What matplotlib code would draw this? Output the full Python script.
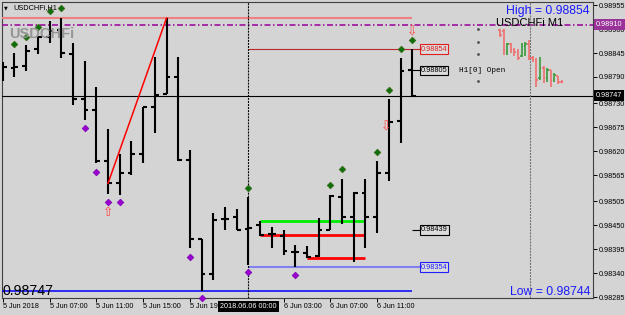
import matplotlib
matplotlib.use('Agg')
import matplotlib.pyplot as plt
import numpy as np

plt.rcParams['font.family'] = ['Liberation Sans', 'DejaVu Sans']
plt.rcParams['lines.scale_dashes'] = False

# ---------------- data (H1 bars, 5 Jun 03:00 .. 6 Jun 14:00) ----------------
h1_open = [0.98806, 0.98810, 0.98815, 0.98854, 0.98882, 0.98898, 0.98843, 0.98739, 0.98714, 0.98597,
           0.98546, 0.98569, 0.98613, 0.98721, 0.98751, 0.98790, 0.98599, 0.98418, 0.98338, 0.98464,
           0.98468, 0.98441, 0.98450, 0.98430, 0.98425, 0.98388, 0.98386, 0.98379, 0.98439, 0.98514,
           0.98468, 0.98524, 0.98468, 0.98569, 0.98689, 0.98805]
h1_high = [0.98824, 0.98845, 0.98863, 0.98884, 0.98918, 0.98925, 0.98868, 0.98826, 0.98767, 0.98670,
           0.98613, 0.98643, 0.98722, 0.98836, 0.98925, 0.98836, 0.98622, 0.98418, 0.98478, 0.98491,
           0.98487, 0.98514, 0.98459, 0.98446, 0.98439, 0.98404, 0.98402, 0.98466, 0.98519, 0.98556,
           0.98526, 0.98556, 0.98597, 0.98739, 0.98833, 0.98854]
h1_low = [0.98781, 0.98790, 0.98804, 0.98843, 0.98868, 0.98833, 0.98726, 0.98691, 0.98592, 0.98521,
          0.98519, 0.98565, 0.98592, 0.98661, 0.98751, 0.98597, 0.98397, 0.98300, 0.98324, 0.98439,
          0.98439, 0.98358, 0.98425, 0.98397, 0.98381, 0.98354, 0.98374, 0.98377, 0.98439, 0.98452,
          0.98365, 0.98397, 0.98432, 0.98551, 0.98638, 0.98744]
h1_close = [0.98813, 0.98813, 0.98849, 0.98882, 0.98895, 0.98845, 0.98739, 0.98714, 0.98597, 0.98546,
            0.98569, 0.98613, 0.98721, 0.98748, 0.98790, 0.98599, 0.98418, 0.98338, 0.98462, 0.98464,
            0.98439, 0.98443, 0.98427, 0.98430, 0.98390, 0.98388, 0.98377, 0.98439, 0.98517, 0.98468,
            0.98524, 0.98468, 0.98569, 0.98686, 0.98804, 0.98747]

xtick_bars = [0, 4, 8, 12, 16, 24, 28, 32]
xtick_labels = ['5 Jun 2018', '5 Jun 07:00', '5 Jun 11:00', '5 Jun 15:00', '5 Jun 19:00',
                '6 Jun 03:00', '6 Jun 07:00', '6 Jun 11:00']
ytick_values = [0.98955, 0.98900, 0.98845, 0.98790, 0.98730, 0.98675, 0.98620, 0.98565,
                0.98505, 0.98450, 0.98395, 0.98340, 0.98285]

# fractal style dots
up_dot_bars = [1, 2, 3, 4, 5, 21, 28, 29, 32, 33, 34, 35]
up_dot_price = [0.98865, 0.98882, 0.98905, 0.98941, 0.98948, 0.98535, 0.98542, 0.98579,
                0.98618, 0.98760, 0.98854, 0.98875]
dn_dot_bars = [7, 8, 9, 10, 16, 17, 21, 25]
dn_dot_price = [0.98673, 0.98572, 0.98503, 0.98503, 0.98377, 0.98283, 0.98342, 0.98335]

# arrows
up_arrow_bars = [9]
up_arrow_price = [0.98478]
dn_arrow_bars = [35, 32.75]
dn_arrow_price = [0.98893, 0.98674]

# trend line (bar, price)
trend_bars = [9, 14]
trend_price = [0.98546, 0.98925]

# levels
range_high = 0.98925
range_low = 0.98300
dash_level = 0.98910
bid = 0.98747
day_high = 0.98854
day_low = 0.98744
h1_open_level = 0.98805
lvl_black = 0.98439
lvl_blue = 0.98354
green_level = 0.98459
red_level1 = 0.98427
red_level2 = 0.98374

# M1 mini chart (current hour)
m1_open = [0.98898, 0.98895, 0.98847, 0.98865, 0.98852, 0.98847, 0.98838, 0.98861, 0.98865,
           0.98833, 0.98829, 0.98787, 0.98810, 0.98787, 0.98806, 0.98783, 0.98792, 0.98778]
m1_high = [0.98900, 0.98900, 0.98868, 0.98868, 0.98856, 0.98854, 0.98868, 0.98870, 0.98875,
           0.98838, 0.98833, 0.98836, 0.98815, 0.98810, 0.98806, 0.98799, 0.98792, 0.98783]
m1_low = [0.98882, 0.98840, 0.98840, 0.98845, 0.98838, 0.98829, 0.98836, 0.98838, 0.98829,
          0.98824, 0.98767, 0.98783, 0.98776, 0.98778, 0.98767, 0.98778, 0.98774, 0.98776]
m1_close = [0.98886, 0.98852, 0.98865, 0.98852, 0.98847, 0.98833, 0.98861, 0.98865, 0.98833,
            0.98829, 0.98783, 0.98810, 0.98787, 0.98806, 0.98783, 0.98794, 0.98778, 0.98778]

# ---------------- figure ----------------
W, H = 625, 315
BG = '#d4d4d4'
fig = plt.figure(figsize=(W / 100, H / 100), dpi=100)
fig.patch.set_facecolor(BG)
ax = fig.add_axes([2 / W, 17 / H, 591 / W, 296 / H])
ax.set_facecolor(BG)
ax.set_xlim(-0.06, 50.45)
ax.set_ylim(0.98283, 0.98962)
xl, xr = ax.get_xlim()

idx = np.arange(len(h1_open))
tw = 0.33
ax.vlines(idx, h1_low, h1_high, color='black', lw=1.5, zorder=4)
ax.hlines(h1_open, idx - tw, idx, color='black', lw=1.5, zorder=4)
ax.hlines(h1_close, idx, idx + tw, color='black', lw=1.5, zorder=4)

# levels
ax.hlines(range_high, xl, 35, color='#f08080', lw=1.5, zorder=3)
ax.hlines(range_low, xl, 35, color='#0000ff', lw=1.1, zorder=3)
ax.axhline(dash_level, color='#990099', lw=1.1, ls=(0, (4.3, 1.8, 1.1, 1.8)), zorder=3)
ax.axhline(bid, color='black', lw=0.8, zorder=3)
ax.hlines(day_high, 21, 35.66, color='#b82828', lw=0.8, zorder=3)
ax.hlines(lvl_blue, 21, 35.66, color='#8080ee', lw=1.5, zorder=3)
ax.hlines(h1_open_level, 35, 35.66, color='black', lw=0.8, zorder=3)
ax.hlines(lvl_black, 35, 35.66, color='black', lw=0.8, zorder=3)
ax.hlines(green_level, 22, 31, color='#00ee00', lw=2.0, zorder=3)
ax.hlines(red_level1, 22, 31, color='#ff0000', lw=2.0, zorder=3)
ax.hlines(red_level2, 26, 31, color='#ff0000', lw=2.0, zorder=3)

ax.axvline(21, color='black', lw=0.8, ls=(0, (1.4, 0.8)), zorder=3)
ax.axvline(45.07, color='#707070', lw=0.8, ls=(0, (1.4, 0.8)), zorder=3)

ax.plot(trend_bars, trend_price, color='#ff0000', lw=1.1, zorder=5)

ax.plot(up_dot_bars, up_dot_price, ls='none', marker='D', ms=3.4, mfc='#0b700b',
        mec='#3d6a14', mew=0.5, zorder=6, clip_on=False)
ax.plot(dn_dot_bars, dn_dot_price, ls='none', marker='D', ms=3.4, mfc='#9b00d3',
        mec='#7a00b0', mew=0.5, zorder=6, clip_on=False)
for b, p in zip(up_arrow_bars, up_arrow_price):
    ax.text(b, p, '\u21e7', color='#ff4040', fontsize=9, ha='center', va='center',
            family='DejaVu Sans', zorder=6)
for b, p in zip(dn_arrow_bars, dn_arrow_price):
    ax.text(b, p, '\u21e9', color='#ff4040', fontsize=9, ha='center', va='center',
            family='DejaVu Sans', zorder=6)

# M1 mini chart
m1_x = 42.5 + 0.31 * np.arange(len(m1_open))
m1_col = ['#3c9a3c' if c > o else '#f07070' for o, c in zip(m1_open, m1_close)]
ax.vlines(m1_x, m1_low, m1_high, colors=m1_col, lw=1.2, zorder=4)
ax.hlines(m1_open, m1_x - 0.13, m1_x, colors=m1_col, lw=1.2, zorder=4)
ax.hlines(m1_close, m1_x, m1_x + 0.13, colors=m1_col, lw=1.2, zorder=4)

# value boxes in chart
def vbox(y, txt, ec, tc):
    ax.text(35.72, y, txt, fontsize=5.3, color=tc, ha='left', va='center', zorder=7,
            bbox=dict(boxstyle='square,pad=0.15', fc='#dcdcdc', ec=ec, lw=0.8))

vbox(day_high, '%.5f' % day_high, '#e02020', '#e02020')
vbox(h1_open_level, '%.5f' % h1_open_level, 'black', 'black')
vbox(lvl_black, '%.5f' % lvl_black, 'black', 'black')
vbox(lvl_blue, '%.5f' % lvl_blue, '#2020ff', '#2020ff')
ax.text(39.0, h1_open_level, 'H1[0] Open', family='Liberation Mono', fontsize=5.5,
        ha='left', va='center', zorder=7)
ax.plot([40.6] * 4, [0.98900, 0.98870, 0.98843, 0.98781], ls='none', marker='s', ms=0.9,
        color='#505050', zorder=7)

# axes styling
for s in ax.spines.values():
    s.set_color('#404040')
    s.set_linewidth(0.8)
ax.yaxis.tick_right()
ax.set_yticks(ytick_values)
ax.set_yticklabels(['%.5f' % v for v in ytick_values])
ax.set_xticks(xtick_bars)
ax.set_xticklabels(xtick_labels)
ax.tick_params(axis='y', length=2.9, width=0.7, labelsize=5.2, pad=1.2, colors='black')
ax.tick_params(axis='x', length=2.9, width=0.7, labelsize=5.2, pad=1.0, colors='black')
for t in ax.get_xticklabels():
    t.set_ha('left')

# axis value boxes
ytr = ax.get_yaxis_transform()
ax.text(1.005, dash_level, '%.5f' % dash_level, transform=ytr, fontsize=5.2, color='white',
        ha='left', va='center', zorder=8, clip_on=False,
        bbox=dict(boxstyle='square,pad=0.3', fc='#993399', ec='#993399', lw=0))
ax.text(1.005, bid, '%.5f' % bid, transform=ytr, fontsize=5.2, color='white',
        ha='left', va='center', zorder=8, clip_on=False,
        bbox=dict(boxstyle='square,pad=0.3', fc='black', ec='black', lw=0))
xtr = ax.get_xaxis_transform()
ax.text(21, -0.017, '2018.06.06 00:00', transform=xtr, fontsize=5.2, color='white',
        ha='center', va='top', zorder=8, clip_on=False,
        bbox=dict(boxstyle='square,pad=0.3', fc='black', ec='black', lw=0))

# overlay texts
fig.text(4 / W, 1 - 8 / H, '\u25bc', fontsize=3.5, ha='left', va='center', family='DejaVu Sans')
fig.text(13 / W, 1 - 8 / H, 'USDCHFi,H1', fontsize=5.3, ha='left', va='center')
fig.text(9 / W, 1 - 34 / H, 'USDCHFi', fontsize=10.5, fontweight='bold', color='#959595',
         ha='left', va='center', family='Liberation Sans')
fig.text(3 / W, 1 - 291 / H, '%.5f' % bid, fontsize=10.2, ha='left', va='center')
fig.text(590 / W, 1 - 11 / H, 'High = %.5f' % day_high, fontsize=8.8, color='#1a1aff',
         ha='right', va='center')
fig.text(496 / W, 1 - 22.5 / H, 'USDCHFi M1', fontsize=8, color='black', ha='left', va='center')
fig.text(590 / W, 1 - 292 / H, 'Low = %.5f' % day_low, fontsize=8.8, color='#1a1aff',
         ha='right', va='center')

fig.savefig('out.png', dpi=100, facecolor=BG)
